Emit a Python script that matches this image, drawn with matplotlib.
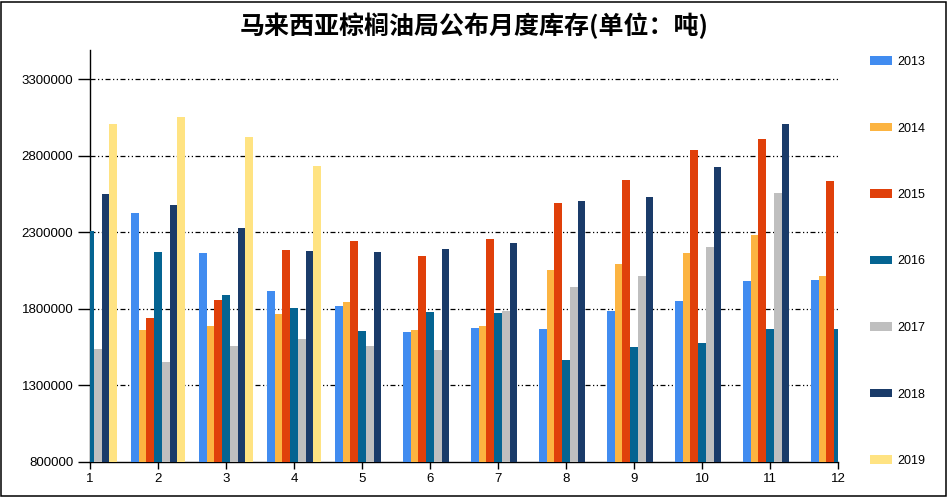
import numpy as np
import matplotlib
matplotlib.use("Agg")
import matplotlib.pyplot as plt
from matplotlib.patches import Rectangle

plt.rcParams['font.family'] = ['Liberation Sans', 'Noto Sans CJK SC', 'DejaVu Sans']

months = list(range(1, 13))
years = ['2013', '2014', '2015', '2016', '2017', '2018', '2019']
colors = ['#418CF0', '#FCB441', '#E0400A', '#056492', '#BFBFBF', '#1A3B69', '#FFE382']

nan = np.nan
# monthly stocks (tonnes)
s2013 = [2580000, 2425000, 2163000, 1914000, 1816000, 1646000, 1672000, 1666000, 1784000, 1849000, 1980000, 1987000]
s2014 = [1790000, 1659000, 1685000, 1764000, 1843000, 1659000, 1685000, 2052000, 2091000, 2163000, 2281000, 2013000]
s2015 = [1940000, 1738000, 1856000, 2183000, 2242000, 2144000, 2255000, 2490000, 2641000, 2837000, 2909000, 2635000]
s2016 = [2307000, 2170000, 1888000, 1803000, 1653000, 1777000, 1770000, 1463000, 1548000, 1574000, 1666000, 1666000]
s2017 = [1541000, 1456000, 1555000, 1600000, 1555000, 1528000, 1784000, 1940000, 2013000, 2202000, 2556000, 2730000]
s2018 = [2549000, 2477000, 2327000, 2176000, 2170000, 2190000, 2229000, 2504000, 2530000, 2726000, 3008000, 3220000]
s2019 = [3007000, 3055000, 2922000, 2732000, nan, nan, nan, nan, nan, nan, nan, nan]
series = [s2013, s2014, s2015, s2016, s2017, s2018, s2019]

yticks = [800000, 1300000, 1800000, 2300000, 2800000, 3300000]

W, H = 948, 497
fig = plt.figure(figsize=(W / 100, H / 100), dpi=100)
ax = fig.add_axes([90 / W, 35 / H, 748 / W, 412 / H])

bw = 0.113
x = np.array(months, dtype=float)
handles = []
for i, (yr, vals, c) in enumerate(zip(years, series, colors)):
    vals = np.array(vals, dtype=float)
    b = ax.bar(x + (i - 3) * bw, vals - 800000, bottom=800000, width=bw,
               color=c, label=yr, zorder=3, linewidth=0)
    handles.append(b)

ax.set_xlim(1, 12)
ax.set_ylim(800000, 3490000)
ax.set_xticks(months)
ax.set_yticks(yticks)
ax.set_yticklabels([str(v) for v in yticks])
ax.tick_params(axis='both', labelsize=9.5, color='black', width=1)
ax.tick_params(axis='y', length=9, pad=3)
ax.tick_params(axis='x', length=5, pad=3)

for v in yticks[1:]:
    ax.axhline(v, color='black', lw=0.9, dashes=(4, 2, 1, 2, 1, 2), zorder=1)

ax.spines['top'].set_visible(False)
ax.spines['right'].set_visible(False)
ax.spines['left'].set_linewidth(1)
ax.spines['bottom'].set_linewidth(1)

fig.text(474 / W, 1 - 26 / H, '马来西亚棕榈油局公布月度库存(单位：吨)',
         ha='center', va='center', fontsize=18, fontweight='bold',
         family=['Noto Sans CJK SC', 'DejaVu Sans'])

fig.legend(handles=handles, labels=years, loc='upper left',
           bbox_to_anchor=(870 / W, 1 - 56 / H), bbox_transform=fig.transFigure,
           frameon=False, fontsize=9, handlelength=1.76, handleheight=0.64,
           handletextpad=0.4, labelspacing=4.36, borderpad=0, borderaxespad=0)

fig.patches.append(Rectangle((1 / W, 1.5 / H), 945 / W, 494 / H, transform=fig.transFigure,
                             fill=False, edgecolor='black', linewidth=1.1))

fig.savefig('out.png', dpi=100)
